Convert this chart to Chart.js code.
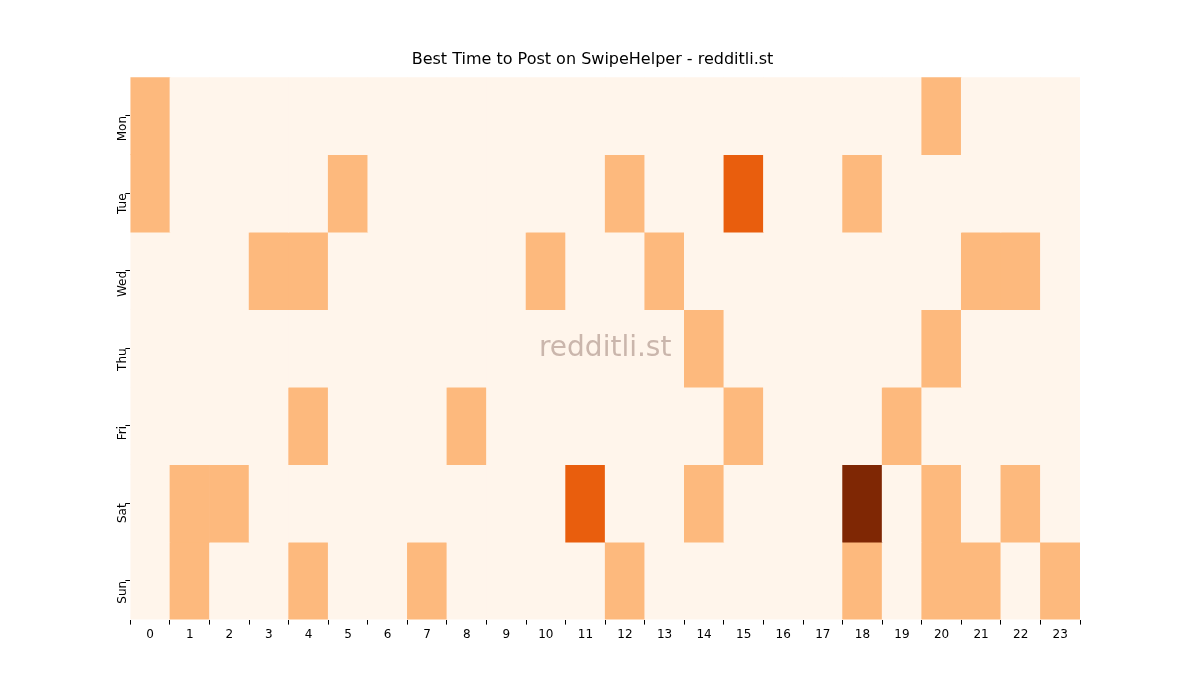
<!DOCTYPE html>
<html><head><meta charset="utf-8">
<script src="https://cdn.jsdelivr.net/npm/chart.js@4"></script>
<style>body{margin:0;background:#fff}</style></head>
<body><canvas id="c" width="1200" height="700"></canvas>
<script>
const hours = Array.from({length:24},(_, i)=>String(i));
const days = ["Mon","Tue","Wed","Thu","Fri","Sat","Sun"];
const mon = [1,0,0,0,0,0,0,0,0,0,0,0,0,0,0,0,0,0,0,0,1,0,0,0];
const tue = [1,0,0,0,0,1,0,0,0,0,0,0,1,0,0,2,0,0,1,0,0,0,0,0];
const wed = [0,0,0,1,1,0,0,0,0,0,1,0,0,1,0,0,0,0,0,0,0,1,1,0];
const thu = [0,0,0,0,0,0,0,0,0,0,0,0,0,0,1,0,0,0,0,0,1,0,0,0];
const fri = [0,0,0,0,1,0,0,0,1,0,0,0,0,0,0,1,0,0,0,1,0,0,0,0];
const sat = [0,1,1,0,0,0,0,0,0,0,0,2,0,0,1,0,0,0,3,0,1,0,1,0];
const sun = [0,1,0,0,1,0,0,1,0,0,0,0,1,0,0,0,0,0,1,0,1,1,0,1];
const rows = [mon,tue,wed,thu,fri,sat,sun];
const palette = ["#fff5eb","#fdb97d","#e95e0d","#7f2704"];
const datasets = rows.map((r,i)=>({
  label: days[i],
  data: r.map(()=>[i-0.5,i+0.5]),
  backgroundColor: r.map(v=>palette[v]),
  borderWidth:0, barPercentage:1, categoryPercentage:1, grouped:false
}));
const wm = {id:'wm', afterDatasetsDraw(ch){const {ctx,chartArea:a}=ch;ctx.save();ctx.font='28px "DejaVu Sans"';ctx.fillStyle='rgba(150,120,110,0.5)';ctx.textAlign='center';ctx.textBaseline='middle';ctx.fillText('redditli.st',(a.left+a.right)/2,(a.top+a.bottom)/2);ctx.restore();}};
new Chart(document.getElementById('c'),{
  type:'bar', data:{labels:hours, datasets},
  options:{responsive:false, animation:false,
    layout:{padding:{left:105,right:120,top:50,bottom:55}},
    plugins:{legend:{display:false},tooltip:{enabled:false},
      title:{display:true,text:'Best Time to Post on SwipeHelper - redditli.st',color:'#000',font:{size:16,family:'DejaVu Sans',weight:'normal'},padding:{top:0,bottom:8}}},
    scales:{
      x:{grid:{drawOnChartArea:false,tickLength:5,color:'#000'},border:{display:false},ticks:{color:'#000',font:{size:12,family:'DejaVu Sans'}}},
      y:{type:'linear',reverse:true,min:-0.5,max:6.5,afterBuildTicks(s){s.ticks=days.map((d,i)=>({value:i}));},
        grid:{drawOnChartArea:false,tickLength:5,color:'#000'},border:{display:false},
        ticks:{color:'#000',minRotation:90,maxRotation:90,font:{size:12,family:'DejaVu Sans'},callback:(v)=>days[v]}}
    }}, plugins:[wm]
});
</script></body></html>
